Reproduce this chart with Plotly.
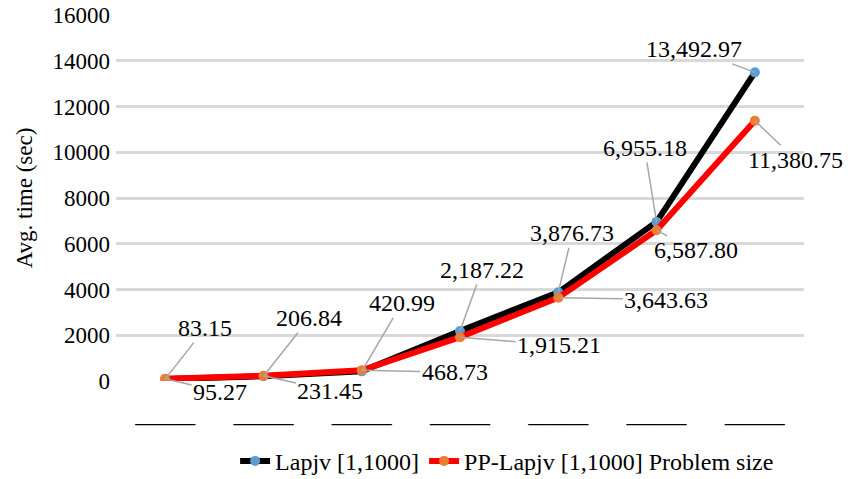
import plotly.graph_objects as go

# Problem-size categories (x labels are drawn as blank underscores)
categories = [0, 1, 2, 3, 4, 5, 6]
tick_labels = ["______"] * 7

# Average run time in seconds
lapjv = [83.15, 206.84, 420.99, 2187.22, 3876.73, 6955.18, 13492.97]
pp_lapjv = [95.27, 231.45, 468.73, 1915.21, 3643.63, 6587.80, 11380.75]

# Label offsets (pixels) for each data label, relative to its point
lapjv_offsets = [(40, -51), (46, -58), (40, -68), (22, -61), (14, -59), (-12, -74), (-61, -23)]
pp_offsets = [(55, 13), (67, 15), (93, 2), (99, 8), (108, 2), (39, 20), (41, 39)]

FONT = "Liberation Serif"

fig = go.Figure()
fig.add_trace(go.Scatter(
    x=categories, y=lapjv, mode="lines+markers", name="Lapjv [1,1000]",
    line=dict(color="black", width=6),
    marker=dict(color="#5B9BD5", size=10, symbol="circle"),
))
fig.add_trace(go.Scatter(
    x=categories, y=pp_lapjv, mode="lines+markers", name="PP-Lapjv [1,1000] Problem size",
    line=dict(color="#FF0000", width=6),
    marker=dict(color="#ED7D31", size=10, symbol="circle"),
))

annotations = []
for series, offsets in ((lapjv, lapjv_offsets), (pp_lapjv, pp_offsets)):
    for xi, yi, (ax, ay) in zip(categories, series, offsets):
        annotations.append(dict(
            x=xi, y=yi, xref="x", yref="y",
            text=f"{yi:,.2f}", showarrow=True, arrowhead=0,
            arrowcolor="#A6A6A6", arrowwidth=1.5,
            ax=ax, ay=ay, standoff=0,
            font=dict(family=FONT, size=24, color="black"),
        ))

fig.update_layout(
    width=848, height=479,
    margin=dict(l=116, r=44, t=15, b=98, autoexpand=False),
    paper_bgcolor="white", plot_bgcolor="white",
    font=dict(family=FONT, size=22, color="black"),
    showlegend=True,
    legend=dict(
        orientation="h", xref="container", yref="container",
        x=0.598, xanchor="center", y=0.037, yanchor="middle",
        font=dict(family=FONT, size=24, color="black"),
        itemwidth=30, tracegroupgap=0,
    ),
    annotations=annotations,
)
fig.update_xaxes(
    range=[-0.5, 6.5], tickmode="array", tickvals=categories, ticktext=tick_labels,
    showgrid=False, zeroline=False, showline=False, ticks="", automargin=False,
    tickfont=dict(family=FONT, size=20, color="black"), ticklabelstandoff=20,
)
fig.update_yaxes(
    range=[0, 16000], dtick=2000, tickformat="d", automargin=False,
    showgrid=True, gridcolor="#D9D9D9", gridwidth=3,
    zeroline=False, showline=False, ticks="", ticklabelstandoff=5,
    tickfont=dict(family=FONT, size=23, color="black"),
    title=dict(text="Avg. time (sec)", font=dict(family=FONT, size=23, color="black"), standoff=13),
)

fig.write_html("out.html")
